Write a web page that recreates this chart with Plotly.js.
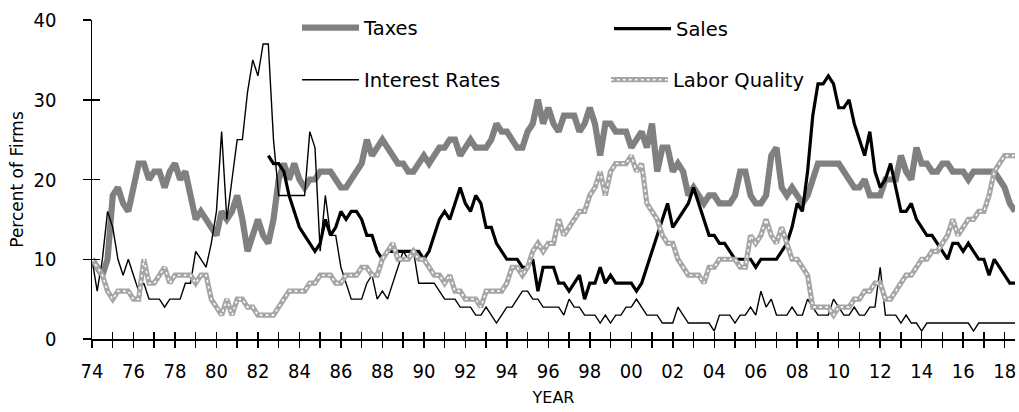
<!DOCTYPE html>
<html><head><meta charset="utf-8">
<script src="https://cdn.plot.ly/plotly-3.0.1.min.js"></script>
<style>html,body{margin:0;padding:0;background:#fff}#chart{width:1019px;height:412px}</style>
</head><body><div id="chart"></div>
<script>
// Quarterly series, first value = 1974 Q1
const startYear = 1974;
const taxes = [
10,9,8,10, 18,19,17,16, 19,22,22,20, 21,21,19,21, 22,20,21,18, 15,16,15,14,
13,16,15,16, 18,15,11,13, 15,13,12,15, 20,22,20,22, 20,19,20,20, 21,21,21,20,
19,19,20,21, 22,25,23,24, 25,24,23,22, 22,21,21,22, 23,22,23,24, 24,25,25,23,
24,25,24,24, 24,25,27,26, 26,25,24,24, 26,27,30,27, 29,27,26,28, 28,28,26,27,
29,27,23,27, 27,26,26,26, 24,25,26,24, 27,21,24,24, 21,22,21,18, 19,18,17,18,
18,17,17,17, 18,21,21,18, 17,17,18,23, 24,19,18,19, 18,17,18,20, 22,22,22,22,
22,21,20,19, 19,20,18,18, 18,20,20,20, 23,21,20,24, 22,22,21,21, 22,22,21,21,
21,20,21,21, 21,21,21,20, 19,17,16];
// Sales series begins 1982 Q3
const salesStart = 1982.5;
const sales = [
23,22, 22,21,18,16, 14,13,12,11, 12,15,13,14, 16,15,16,16, 15,13,13,11,
10,11,11,11, 11,11,11,11, 10,11,13,15, 16,15,17,19, 17,16,18,17, 14,14,12,11,
10,10,10,9, 9,10,6,9, 9,9,7,7, 6,7,8,5, 7,7,9,7, 8,7,7,7, 7,6,7,9,
11,13,15,17, 14,15,16,17, 19,17,15,13, 13,12,12,11, 10,10,10,10, 9,10,10,10,
10,11,12,14, 17,16,21,28, 32,32,33,32, 29,29,30,27, 25,23,26,21, 19,20,22,19,
16,16,17,15, 14,13,13,12, 11,10,12,12, 11,12,11,10, 10,8,10,9, 8,7,7];
const interestRates = [
10,6,10,16, 14,10,8,10, 8,6,7,5, 5,5,4,5, 5,5,7,7, 11,10,9,12,
16,26,15,20, 25,25,31,35, 33,37,37,25, 18,18,18,18, 18,18,26,24, 11,18,13,13,
9,7,5,5, 5,7,8,5, 6,5,7,9, 11,10,11,7, 7,7,7,6, 5,5,5,4,
4,4,3,3, 4,3,2,3, 4,4,5,6, 6,5,5,4, 4,4,4,3, 5,4,4,3,
3,3,2,3, 2,3,3,4, 4,5,4,3, 3,3,2,2, 2,4,3,2, 2,2,2,2,
1,3,3,3, 2,3,3,4, 3,6,4,5, 3,3,3,4, 3,3,5,4, 3,3,3,5,
4,3,3,4, 3,3,4,4, 9,3,3,3, 2,3,2,2, 1,2,2,2, 2,2,2,2,
2,2,1,2, 2,2,2,2, 2,2,2];
const laborQuality = [
10,9,8,6, 5,6,6,6, 5,5,10,7, 7,8,9,7, 8,8,8,8, 7,8,8,5,
4,3,5,3, 5,5,4,4, 3,3,3,3, 4,5,6,6, 6,6,7,7, 8,8,8,7,
7,8,8,8, 9,9,8,8, 10,11,12,10, 10,10,11,10, 10,9,8,8, 7,8,6,6,
5,5,5,4, 6,6,6,6, 7,9,9,8, 9,11,12,11, 12,12,15,13, 14,15,16,16,
18,19,21,18, 21,22,22,22, 23,21,22,17, 16,15,13,12, 12,10,9,8, 8,8,7,9,
9,10,10,10, 10,9,9,13, 12,13,15,13, 12,14,12,10, 10,9,8,4, 4,4,4,3,
4,4,4,5, 5,6,6,7, 7,5,5,6, 7,8,8,9, 10,10,11,11, 12,13,15,13,
14,15,15,16, 16,18,21,22, 23,23,23];
const xTickLabels = ['74','','76','','78','','80','','82','','84','','86','','88','','90','','92','','94','','96','','98','',
'00','','02','','04','','06','','08','','10','','12','','14','','16','','18'];
const yTickValues = [0,10,20,30,40];

const qx = (start, arr) => arr.map((_, i) => start + i / 4);
const xYears = xTickLabels.map((_, i) => startYear + i);

const legendFont = {family: 'DejaVu Sans, Verdana, sans-serif', size: 19.5, color: '#000'};
const tickFont = {family: 'Liberation Sans Narrow, Arial Narrow, DejaVu Sans Condensed, Liberation Sans, sans-serif', size: 20, color: '#000'};

// pixel helpers for legend placement (plot area: x 92..1015, y 20..339)
const L = 92, W = 923, T = 20, H = 319;
const px = v => (v - L) / W;
const py = v => (T + H - v) / H;

function leg(xp, yp, font) {
  return {x: px(xp), y: py(yp), xanchor: 'left', yanchor: 'middle', orientation: 'h',
    bgcolor: 'rgba(0,0,0,0)', borderwidth: 0, itemwidth: 57, font: font || legendFont,
    itemclick: false, itemdoubleclick: false, tracegroupgap: 0};
}

const traces = [
  {x: qx(startYear, taxes), y: taxes, name: 'Taxes', type: 'scatter', mode: 'lines',
   line: {color: '#808080', width: 6.2}, legend: 'legend'},
  {x: qx(salesStart, sales), y: sales, name: 'Sales', type: 'scatter', mode: 'lines',
   line: {color: '#000000', width: 3.2}, legend: 'legend2'},
  {x: qx(startYear, interestRates), y: interestRates, name: 'Interest Rates', type: 'scatter', mode: 'lines',
   line: {color: '#000000', width: 1.4}, legend: 'legend3'},
  {x: qx(startYear, laborQuality), y: laborQuality, name: 'Labor Quality', type: 'scatter', mode: 'lines',
   line: {color: '#a6a6a6', width: 5.2}, legend: 'legend4', xaxis: 'x2', yaxis: 'y2'},
  {x: qx(startYear, laborQuality), y: laborQuality, name: ' ', type: 'scatter', mode: 'lines',
   line: {color: '#ffffff', width: 1.6, dash: '2.5px,3.5px'}, legend: 'legend5', xaxis: 'x2', yaxis: 'y2', hoverinfo: 'skip'}
];

const xr = [1974, 2018.5];
const layout = {
  width: 1019, height: 412,
  margin: {l: L, r: 1019 - L - W, t: T, b: 412 - T - H},
  paper_bgcolor: '#fff', plot_bgcolor: '#fff',
  showlegend: true,
  xaxis: {range: xr, tickvals: xYears, ticktext: xTickLabels, ticks: 'outside', ticklen: 7, tickwidth: 1.5,
    tickcolor: '#000', showline: true, linecolor: '#000', linewidth: 1.5, showgrid: false, zeroline: false,
    tickfont: tickFont, ticklabelstandoff: 6, automargin: false,
    title: {text: 'YEAR', font: {family: 'DejaVu Sans, sans-serif', size: 16, color: '#000'}, standoff: 10}},
  xaxis2: {range: xr, overlaying: 'x', anchor: 'y', tickvals: xYears, showticklabels: false, ticks: 'inside',
    ticklen: 7, tickwidth: 1.5, tickcolor: '#000', showline: false, showgrid: false, zeroline: false},
  yaxis: {range: [0, 40], tickvals: yTickValues, ticks: 'outside', ticklen: 8, tickwidth: 1.5, tickcolor: '#000',
    showline: true, linecolor: '#000', linewidth: 1.5, showgrid: false, zeroline: false, tickfont: tickFont,
    ticklabelstandoff: 22, automargin: false,
    title: {text: 'Percent of Firms', font: {family: 'DejaVu Sans, sans-serif', size: 17, color: '#000'}, standoff: 5}},
  yaxis2: {range: [0, 40], overlaying: 'y', anchor: 'x', side: 'left', tickvals: yTickValues, showticklabels: false,
    ticks: 'inside', ticklen: 8, tickwidth: 1.5, tickcolor: '#000', showline: false, showgrid: false, zeroline: false},
  legend: leg(297, 28),
  legend2: leg(609, 29),
  legend3: leg(297, 80),
  legend4: leg(606, 80),
  legend5: leg(606, 80),
  hovermode: false
};

Plotly.newPlot('chart', traces, layout, {staticPlot: true, displayModeBar: false});
</script>
</body></html>
